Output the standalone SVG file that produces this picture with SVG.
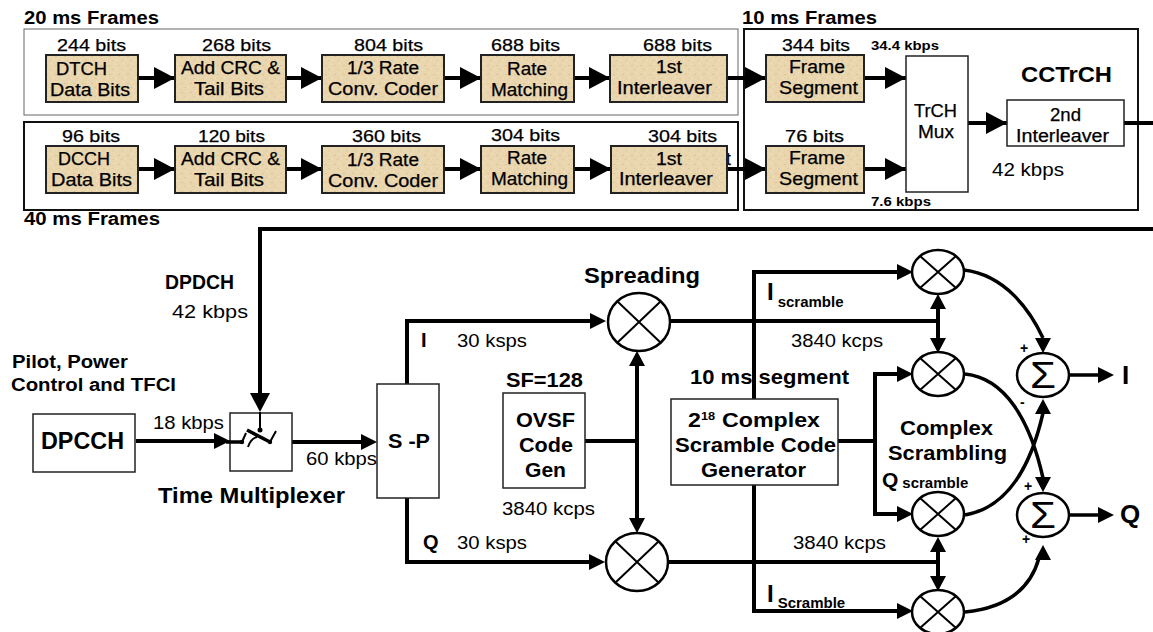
<svg xmlns="http://www.w3.org/2000/svg" width="1153" height="632" viewBox="0 0 1153 632">
<style>
text{font-family:"Liberation Sans",Arial,sans-serif;fill:#000;text-anchor:start}
.b{font-weight:700}
.h{font-weight:700;font-size:17.5px}
.n{font-size:17.5px;stroke:#000;stroke-width:.25}
.bits{font-size:17px;stroke:#000;stroke-width:.25}
.r{font-size:18.5px}
.tan{fill:url(#paper);stroke:#222;stroke-width:2}
.w{fill:#fff;stroke:#222;stroke-width:1.5}
.c{fill:#fff;stroke:#000;stroke-width:2.5}
.x{stroke:#000;stroke-width:2;fill:none}
.l{stroke:#000;stroke-width:4;fill:none}
.l3{stroke:#000;stroke-width:3.5;fill:none}
.a{fill:#000;stroke:none}
</style>
<defs>
<pattern id="paper" width="9" height="9" patternUnits="userSpaceOnUse"><rect width="9" height="9" fill="#e9d5ae"/><rect x="1" y="2" width="2" height="1" fill="#dcc595"/><rect x="6" y="0" width="1" height="2" fill="#f0e0c0"/><rect x="4" y="6" width="2" height="1" fill="#e0cb9f"/><rect x="8" y="5" width="1" height="2" fill="#f0e0c0"/></pattern>
<path id="big" class="a" d="M0-11 L21 0 L0 11Z"/>
<path id="mid" class="a" d="M0-8 L16 0 L0 8Z"/>
<path id="dn" class="a" d="M-10 0 L10 0 L0 19Z"/>
<path id="up" class="a" d="M-8 15 L8 15 L0 0Z"/>
<path id="dnm" class="a" d="M-8 0 L8 0 L0 15Z"/>
</defs>
<rect x="24" y="29" width="714" height="86" fill="none" stroke="#666" stroke-width="1"/>
<rect x="24" y="122" width="714" height="88" fill="none" stroke="#111" stroke-width="2"/>
<rect x="744" y="29" width="394" height="181" fill="none" stroke="#111" stroke-width="2"/>
<g id="connectors">
<path class="l" d="M138 78H175M286 78H322M444 78H481M574 78H610M727 78H766M864 78H906M138 169H175M286 169H322M444 169H481M574 169H611M727 169H766M864 169H906M968 123H1007M1124 123H1153"/>
<use href="#big" x="154" y="78"/><use href="#big" x="301" y="78"/><use href="#big" x="460" y="78"/><use href="#big" x="589" y="78"/><use href="#big" x="745" y="78"/><use href="#big" x="885" y="78"/>
<use href="#big" x="154" y="169"/><use href="#big" x="301" y="169"/><use href="#big" x="460" y="169"/><use href="#big" x="590" y="169"/><use href="#big" x="745" y="169"/><use href="#big" x="885" y="169"/>
<use href="#big" x="986" y="123"/>
<path class="l" d="M1153 229H260V395"/><use href="#dn" x="260" y="393"/>
<path class="l" d="M136 441H216"/><use href="#mid" x="214" y="441"/>
<path class="l" d="M270 442H364"/><use href="#mid" x="361" y="442"/>
<path class="l" d="M407 384V321H592M407 498V562H590M670 321H938M668 562H938M585 441H637M637 362V521"/>
<use href="#mid" x="590" y="321"/><use href="#mid" x="589" y="562"/>
<use href="#up" x="637" y="351"/><use href="#dnm" x="637" y="518"/>
<path class="l" d="M754 399V272H900M754 485V611H900M838 441H875M875 374V514M873 374H900M873 514H900M938 305V340M938 548V578"/>
<use href="#mid" x="897" y="272"/><use href="#mid" x="897" y="374"/><use href="#mid" x="897" y="514"/><use href="#mid" x="897" y="611"/>
<use href="#up" x="938" y="294"/><use href="#dnm" x="938" y="338"/><use href="#up" x="938" y="537"/><use href="#dnm" x="938" y="576"/>
<path class="l3" d="M964 270C1005 275 1030 310 1043 338M965 374C1005 378 1030 420 1043 478M965 515C1005 508 1030 470 1043 413M965 612C1005 608 1030 590 1039 558"/>
<use href="#dnm" x="1043" y="338"/><use href="#dnm" x="1043" y="477"/><use href="#up" x="1043" y="399"/><use href="#up" x="1043" y="545"/>
<path class="l3" d="M1069 375H1100M1068 515H1100"/>
<use href="#mid" x="1098" y="375"/><use href="#mid" x="1098" y="515"/>
</g>
<g id="dtch"><rect class="tan" x="46" y="55" width="92" height="47"/><text class="n" x="56" y="75" textLength="51" lengthAdjust="spacingAndGlyphs">DTCH</text><text class="n" x="50" y="96" textLength="80" lengthAdjust="spacingAndGlyphs">Data Bits</text></g>
<g id="crc1"><rect class="tan" x="175" y="55" width="111" height="47"/><text class="n" x="181" y="74" textLength="99" lengthAdjust="spacingAndGlyphs">Add CRC &amp;</text><text class="n" x="194" y="95" textLength="70" lengthAdjust="spacingAndGlyphs">Tail Bits</text></g>
<g id="conv1"><rect class="tan" x="322" y="55" width="122" height="47"/><text class="n" x="347" y="74" textLength="72" lengthAdjust="spacingAndGlyphs">1/3 Rate</text><text class="n" x="328" y="95" textLength="110" lengthAdjust="spacingAndGlyphs">Conv. Coder</text></g>
<g id="rm1"><rect class="tan" x="481" y="55" width="93" height="47"/><text class="n" x="507" y="75" textLength="40" lengthAdjust="spacingAndGlyphs">Rate</text><text class="n" x="491" y="96" textLength="77" lengthAdjust="spacingAndGlyphs">Matching</text></g>
<g id="il1"><rect class="tan" x="610" y="55" width="117" height="47"/><text class="n" x="656" y="73" textLength="26" lengthAdjust="spacingAndGlyphs">1st</text><text class="n" x="617" y="94" textLength="95" lengthAdjust="spacingAndGlyphs">Interleaver</text></g>
<g id="fs1"><rect class="tan" x="766" y="55" width="98" height="47"/><text class="n" x="789" y="73" textLength="56" lengthAdjust="spacingAndGlyphs">Frame</text><text class="n" x="779" y="94" textLength="79" lengthAdjust="spacingAndGlyphs">Segment</text></g>
<g id="dcch"><rect class="tan" x="46" y="146" width="92" height="47"/><text class="n" x="58" y="165" textLength="52" lengthAdjust="spacingAndGlyphs">DCCH</text><text class="n" x="51" y="186" textLength="81" lengthAdjust="spacingAndGlyphs">Data Bits</text></g>
<g id="crc2"><rect class="tan" x="175" y="146" width="111" height="47"/><text class="n" x="181" y="165" textLength="99" lengthAdjust="spacingAndGlyphs">Add CRC &amp;</text><text class="n" x="194" y="186" textLength="70" lengthAdjust="spacingAndGlyphs">Tail Bits</text></g>
<g id="conv2"><rect class="tan" x="322" y="146" width="122" height="47"/><text class="n" x="347" y="166" textLength="72" lengthAdjust="spacingAndGlyphs">1/3 Rate</text><text class="n" x="328" y="187" textLength="110" lengthAdjust="spacingAndGlyphs">Conv. Coder</text></g>
<g id="rm2"><rect class="tan" x="481" y="146" width="93" height="47"/><text class="n" x="507" y="164" textLength="40" lengthAdjust="spacingAndGlyphs">Rate</text><text class="n" x="491" y="185" textLength="77" lengthAdjust="spacingAndGlyphs">Matching</text></g>
<text class="n" x="726" y="165">t</text>
<g id="il2"><rect class="tan" x="611" y="146" width="116" height="47"/><text class="n" x="656" y="165" textLength="26" lengthAdjust="spacingAndGlyphs">1st</text><text class="n" x="619" y="185" textLength="94" lengthAdjust="spacingAndGlyphs">Interleaver</text></g>
<g id="fs2"><rect class="tan" x="766" y="146" width="98" height="47"/><text class="n" x="789" y="164" textLength="56" lengthAdjust="spacingAndGlyphs">Frame</text><text class="n" x="779" y="185" textLength="79" lengthAdjust="spacingAndGlyphs">Segment</text></g>
<g id="trch"><rect class="w" x="906" y="56" width="62" height="136"/><text class="n" x="914" y="117" textLength="43" lengthAdjust="spacingAndGlyphs">TrCH</text><text class="n" x="918" y="138" textLength="36" lengthAdjust="spacingAndGlyphs">Mux</text></g>
<g id="il3"><rect class="w" x="1007" y="100" width="117" height="46"/><text class="n" x="1050" y="121" textLength="31" lengthAdjust="spacingAndGlyphs">2nd</text><text class="n" x="1016" y="142" textLength="93" lengthAdjust="spacingAndGlyphs">Interleaver</text></g>
<g id="dpcch"><rect class="w" x="33" y="414" width="102" height="58"/><text class="b" x="41" y="449" font-size="23" textLength="83" lengthAdjust="spacingAndGlyphs">DPCCH</text></g>
<g id="mux"><rect class="w" x="230" y="413" width="62" height="58"/>
<path class="x" d="M260 412V430M246 433L242 442M270 442L276 431"/>
<path class="l3" d="M226 442H242M247 430L270 442"/>
<path class="x" d="M248 447C250 441 253 438 257 437"/>
<circle cx="242" cy="442" r="2.2"/><circle cx="270" cy="442" r="2.2"/><circle cx="260" cy="430" r="2.5"/>
</g>
<g id="sp"><rect class="w" x="377" y="384" width="62" height="114"/><text class="b" x="388" y="448" font-size="20" textLength="42" lengthAdjust="spacingAndGlyphs">S -P</text></g>
<g id="ovsf"><rect class="w" x="503" y="393" width="82" height="95"/><text class="b" x="516" y="427" font-size="21" textLength="59" lengthAdjust="spacingAndGlyphs">OVSF</text><text class="b" x="519" y="452" font-size="21" textLength="54" lengthAdjust="spacingAndGlyphs">Code</text><text class="b" x="525" y="477" font-size="21" textLength="41" lengthAdjust="spacingAndGlyphs">Gen</text></g>
<g id="gen"><rect class="w" x="671" y="399" width="167" height="86"/><text class="b" transform="translate(688 427) scale(1.16 1)" font-size="20">2<tspan font-size="11" dy="-7">18</tspan><tspan dy="7" dx="6">Complex</tspan></text><text class="b" x="675" y="452" font-size="21" textLength="161" lengthAdjust="spacingAndGlyphs">Scramble Code</text><text class="b" x="701" y="477" font-size="21" textLength="105" lengthAdjust="spacingAndGlyphs">Generator</text></g>
<g id="sp-i"><ellipse class="c" cx="639" cy="322" rx="31" ry="29"/><path class="x" d="M617 301L661 343M661 301L617 343"/></g>
<g id="sp-q"><ellipse class="c" cx="637" cy="562" rx="31" ry="29"/><path class="x" d="M615 541L659 583M659 541L615 583"/></g>
<g id="m1"><ellipse class="c" cx="938" cy="272" rx="26" ry="22"/><path class="x" d="M920 256L956 288M956 256L920 288"/></g>
<g id="m2"><ellipse class="c" cx="938" cy="374" rx="26" ry="22"/><path class="x" d="M920 358L956 390M956 358L920 390"/></g>
<g id="m3"><ellipse class="c" cx="938" cy="514" rx="26" ry="22"/><path class="x" d="M920 498L956 530M956 498L920 530"/></g>
<g id="m4"><ellipse class="c" cx="938" cy="612" rx="26" ry="22"/><path class="x" d="M920 596L956 628M956 596L920 628"/></g>
<g id="s1"><ellipse class="c" cx="1043" cy="375" rx="26" ry="22"/><text x="1030" y="388" font-size="36" textLength="26" lengthAdjust="spacingAndGlyphs">Σ</text></g>
<g id="s2"><ellipse class="c" cx="1043" cy="515" rx="26" ry="22"/><text x="1030" y="528" font-size="36" textLength="26" lengthAdjust="spacingAndGlyphs">Σ</text></g>
<g id="labels">
<text class="h" x="24" y="24" textLength="135" lengthAdjust="spacingAndGlyphs">20 ms Frames</text>
<text class="h" x="742" y="24" textLength="135" lengthAdjust="spacingAndGlyphs">10 ms Frames</text>
<text class="h" x="24" y="225" textLength="136" lengthAdjust="spacingAndGlyphs">40 ms Frames</text>
<text class="bits" x="57" y="50.5" textLength="69" lengthAdjust="spacingAndGlyphs">244 bits</text><text class="bits" x="202" y="50.5" textLength="69" lengthAdjust="spacingAndGlyphs">268 bits</text><text class="bits" x="354" y="50.5" textLength="69" lengthAdjust="spacingAndGlyphs">804 bits</text><text class="bits" x="491" y="50.5" textLength="69" lengthAdjust="spacingAndGlyphs">688 bits</text><text class="bits" x="643" y="50.5" textLength="69" lengthAdjust="spacingAndGlyphs">688 bits</text><text class="bits" x="782" y="50.5" textLength="68" lengthAdjust="spacingAndGlyphs">344 bits</text>
<text class="bits" x="62" y="141.5" textLength="58" lengthAdjust="spacingAndGlyphs">96 bits</text><text class="bits" x="198" y="141.5" textLength="67" lengthAdjust="spacingAndGlyphs">120 bits</text><text class="bits" x="352" y="141.5" textLength="69" lengthAdjust="spacingAndGlyphs">360 bits</text><text class="bits" x="491" y="140.5" textLength="69" lengthAdjust="spacingAndGlyphs">304 bits</text><text class="bits" x="648" y="141.5" textLength="69" lengthAdjust="spacingAndGlyphs">304 bits</text><text class="bits" x="785" y="141.5" textLength="59" lengthAdjust="spacingAndGlyphs">76 bits</text>
<text class="b" x="871" y="50" font-size="13" textLength="68" lengthAdjust="spacingAndGlyphs">34.4 kbps</text><text class="b" x="871" y="205.5" font-size="13" textLength="60" lengthAdjust="spacingAndGlyphs">7.6 kbps</text>
<text class="b" x="1021" y="82" font-size="22" textLength="91" lengthAdjust="spacingAndGlyphs">CCTrCH</text>
<text class="r" x="992" y="175.5" textLength="72" lengthAdjust="spacingAndGlyphs">42 kbps</text>
<text class="b" x="165" y="289" font-size="20" textLength="69" lengthAdjust="spacingAndGlyphs">DPDCH</text>
<text class="r" x="172" y="318" textLength="76" lengthAdjust="spacingAndGlyphs">42 kbps</text>
<text class="b" x="12" y="368" font-size="18" textLength="116" lengthAdjust="spacingAndGlyphs">Pilot, Power</text>
<text class="b" x="11" y="391" font-size="18" textLength="165" lengthAdjust="spacingAndGlyphs">Control and TFCI</text>
<text class="r" x="153" y="429" textLength="71" lengthAdjust="spacingAndGlyphs">18 kbps</text><text class="r" x="306" y="465" textLength="71" lengthAdjust="spacingAndGlyphs">60 kbps</text>
<text class="b" x="158" y="503" font-size="22" textLength="187" lengthAdjust="spacingAndGlyphs">Time Multiplexer</text>
<text class="b" x="584" y="283" font-size="22" textLength="116" lengthAdjust="spacingAndGlyphs">Spreading</text>
<text class="b" x="421" y="347" font-size="20">I</text><text class="r" x="457" y="347" textLength="70" lengthAdjust="spacingAndGlyphs">30 ksps</text>
<text class="b" x="423" y="549" font-size="20">Q</text><text class="r" x="457" y="549" textLength="70" lengthAdjust="spacingAndGlyphs">30 ksps</text>
<text class="b" x="506" y="387" font-size="21" textLength="77" lengthAdjust="spacingAndGlyphs">SF=128</text>
<text class="r" x="502" y="515" textLength="93" lengthAdjust="spacingAndGlyphs">3840 kcps</text>
<text class="b" x="690" y="384" font-size="21" textLength="159" lengthAdjust="spacingAndGlyphs">10 ms segment</text>
<text class="r" x="791" y="347" textLength="92" lengthAdjust="spacingAndGlyphs">3840 kcps</text><text class="r" x="793" y="549" textLength="93" lengthAdjust="spacingAndGlyphs">3840 kcps</text>
<text class="b" x="767" y="300" font-size="24">I<tspan font-size="15" dx="4" dy="7">scramble</tspan></text>
<text class="b" x="767" y="602" font-size="24">I<tspan font-size="15" dx="4" dy="6">Scramble</tspan></text>
<text class="b" x="900" y="435" font-size="21" textLength="93" lengthAdjust="spacingAndGlyphs">Complex</text><text class="b" x="888" y="460" font-size="21" textLength="119" lengthAdjust="spacingAndGlyphs">Scrambling</text>
<text class="b" x="882" y="487" font-size="21">Q<tspan font-size="15" dx="4" dy="1">scramble</tspan></text>
<text class="b" x="1020" y="353" font-size="14">+</text><text class="b" x="1020" y="407" font-size="14">-</text><text class="b" x="1024" y="491" font-size="14">+</text><text class="b" x="1022" y="544" font-size="14">+</text>
<text class="b" x="1122" y="384" font-size="26">I</text><text class="b" x="1120" y="523" font-size="26">Q</text>
</g>
</svg>
